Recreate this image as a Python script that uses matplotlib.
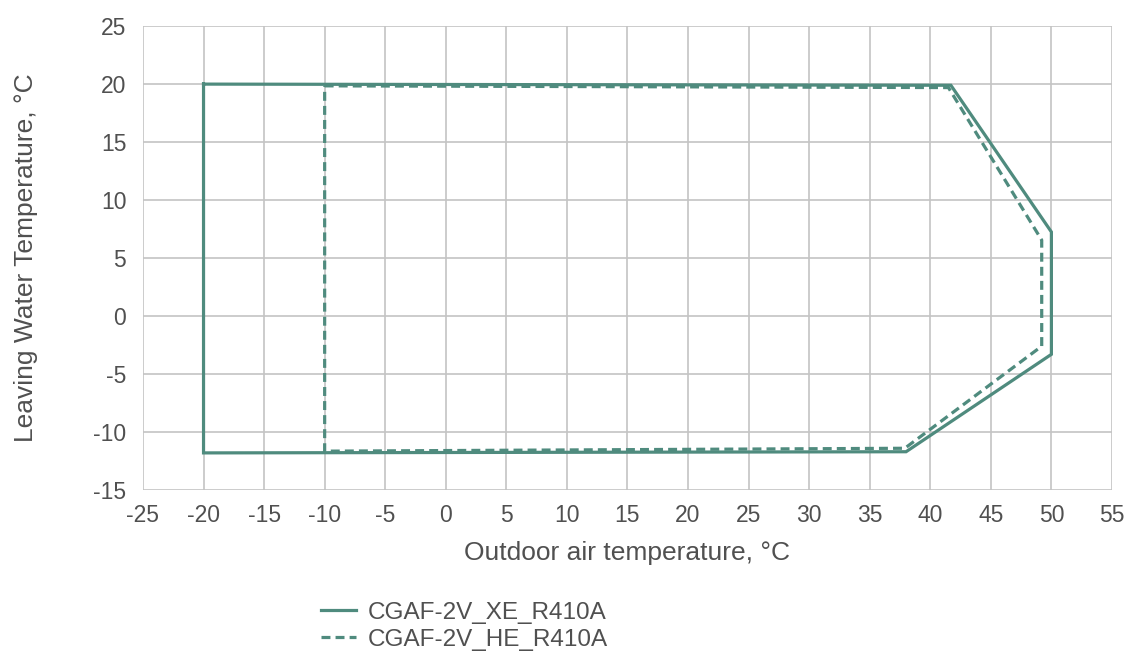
import matplotlib.pyplot as plt

# operating envelope outlines (outdoor air temp, leaving water temp)
xe_x = [-20, 41.7, 50, 50, 38.0, -20, -20]
xe_y = [20.0, 19.9, 7.25, -3.3, -11.7, -11.8, 20.0]

he_x = [-10, 41.5, 49.2, 49.2, 37.9, -10, -10]
he_y = [19.85, 19.7, 6.55, -2.6, -11.4, -11.65, 19.85]

labels = ["CGAF-2V_XE_R410A", "CGAF-2V_HE_R410A"]
x_ticks = list(range(-25, 56, 5))
y_ticks = list(range(-15, 26, 5))

color = "#4f8b7e"
text_color = "#505050"

plt.rcParams["font.family"] = ["Liberation Sans", "DejaVu Sans"]
plt.rcParams["axes.unicode_minus"] = False

fig = plt.figure(figsize=(11.32, 6.53), dpi=100)
ax = fig.add_axes([0.1263, 0.2496, 0.8560, 0.7104])

ax.plot(xe_x, xe_y, color=color, lw=2.3, label=labels[0], solid_joinstyle="miter")
ax.plot(he_x, he_y, color=color, lw=2.3, ls=(0, (2.8, 1.6)), label=labels[1])

ax.set_xlim(-25, 55)
ax.set_ylim(-15, 25)
ax.set_xticks(x_ticks)
ax.set_yticks(y_ticks)
ax.grid(True, color="#c4c4c4", lw=1.2)
ax.set_axisbelow(True)
for s in ax.spines.values():
    s.set_visible(False)
ax.tick_params(length=0, labelsize=16.5, colors=text_color)
ax.tick_params(axis="x", pad=10)
ax.tick_params(axis="y", pad=12)

ax.set_xlabel("Outdoor air temperature, °C", fontsize=19, color=text_color, labelpad=10)
ax.set_ylabel("Leaving Water Temperature, °C", fontsize=19, color=text_color, labelpad=40)

fig.legend(loc="upper left", bbox_to_anchor=(0.273, 0.097), frameon=False,
           fontsize=17.5, labelcolor=text_color, handlelength=1.45,
           handletextpad=0.45, labelspacing=0.2, borderpad=0)

fig.savefig("out.png", dpi=100)
